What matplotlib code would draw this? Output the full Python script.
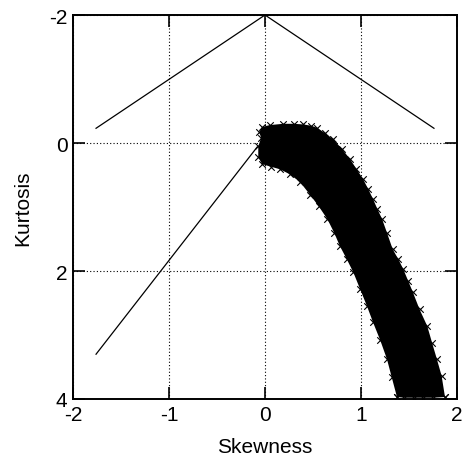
import matplotlib
matplotlib.use("Agg")
import matplotlib.pyplot as plt

plt.rcParams['font.family'] = ['Liberation Sans', 'DejaVu Sans']
plt.rcParams['axes.unicode_minus'] = False

# Boundary lines
upper_line_x = [-1.76, 0.0, 1.76]
upper_line_y = [-0.23, -2.0, -0.23]
lower_line_x = [-1.76, -0.08]
lower_line_y = [3.30, 0.06]

# Scatter cloud edges
band_upper_x = [-0.07, -0.04, -0.06, -0.03, 0.05, 0.19, 0.30, 0.40, 0.48, 0.54, 0.62, 0.71, 0.80, 0.885,
                0.95, 1.02, 1.075, 1.125, 1.17, 1.22, 1.27, 1.33, 1.39, 1.44, 1.49, 1.54, 1.61, 1.69,
                1.74, 1.79, 1.84, 1.875]
band_upper_y = [0.05, -0.08, -0.17, -0.25, -0.28, -0.30, -0.30, -0.29, -0.27, -0.24, -0.16, -0.06, 0.09, 0.25,
                0.40, 0.56, 0.72, 0.875, 1.03, 1.19, 1.40, 1.66, 1.82, 1.97, 2.15, 2.33, 2.60, 2.86,
                3.12, 3.375, 3.64, 3.97]
band_lower_x = [-0.07, -0.03, 0.06, 0.156, 0.26, 0.365, 0.47, 0.56, 0.65, 0.72, 0.78, 0.85, 0.92, 0.99,
                1.06, 1.125, 1.20, 1.27, 1.32, 1.375]
band_lower_y = [0.22, 0.33, 0.37, 0.41, 0.49, 0.61, 0.81, 0.99, 1.19, 1.40, 1.61, 1.81, 2.02, 2.28,
                2.54, 2.80, 3.08, 3.375, 3.66, 3.97]
band_bottom_x = [1.375, 1.45, 1.55, 1.65, 1.75, 1.875]
band_bottom_y = [3.97, 3.98, 3.98, 3.98, 3.98, 3.97]

x_ticks = [-2, -1, 0, 1, 2]
y_ticks = [-2, 0, 2, 4]

fig = plt.figure(figsize=(4.65, 4.64), dpi=100)
ax = fig.add_axes([73/465, 1-400/464, 384/465, 384/464])

ax.set_xlim(-2, 2)
ax.set_ylim(4, -2)
ax.set_xticks(x_ticks)
ax.set_yticks(y_ticks)
ax.grid(True, color='black', linestyle=(0, (1, 2)), linewidth=0.8)
ax.set_axisbelow(True)

ax.plot(upper_line_x, upper_line_y, color='black', lw=0.9)
ax.plot(lower_line_x, lower_line_y, color='black', lw=0.9)

poly_x = band_upper_x + band_bottom_x[::-1] + band_lower_x[::-1]
poly_y = band_upper_y + band_bottom_y[::-1] + band_lower_y[::-1]
ax.fill(poly_x, poly_y, color='black', lw=0)
edge_x = band_upper_x + band_lower_x + band_bottom_x
edge_y = band_upper_y + band_lower_y + band_bottom_y
ax.scatter(edge_x, edge_y, marker='x', s=22, color='black', linewidths=0.8, zorder=3)

ax.tick_params(direction='in', length=8.5, width=1.2, top=True, right=True,
               labelsize=15, pad=4)
for s in ax.spines.values():
    s.set_linewidth(1.4)

ax.set_xlabel('Skewness', fontsize=15, labelpad=10)
ax.set_ylabel('Kurtosis', fontsize=15, labelpad=12)

fig.savefig('out.png', dpi=100)
